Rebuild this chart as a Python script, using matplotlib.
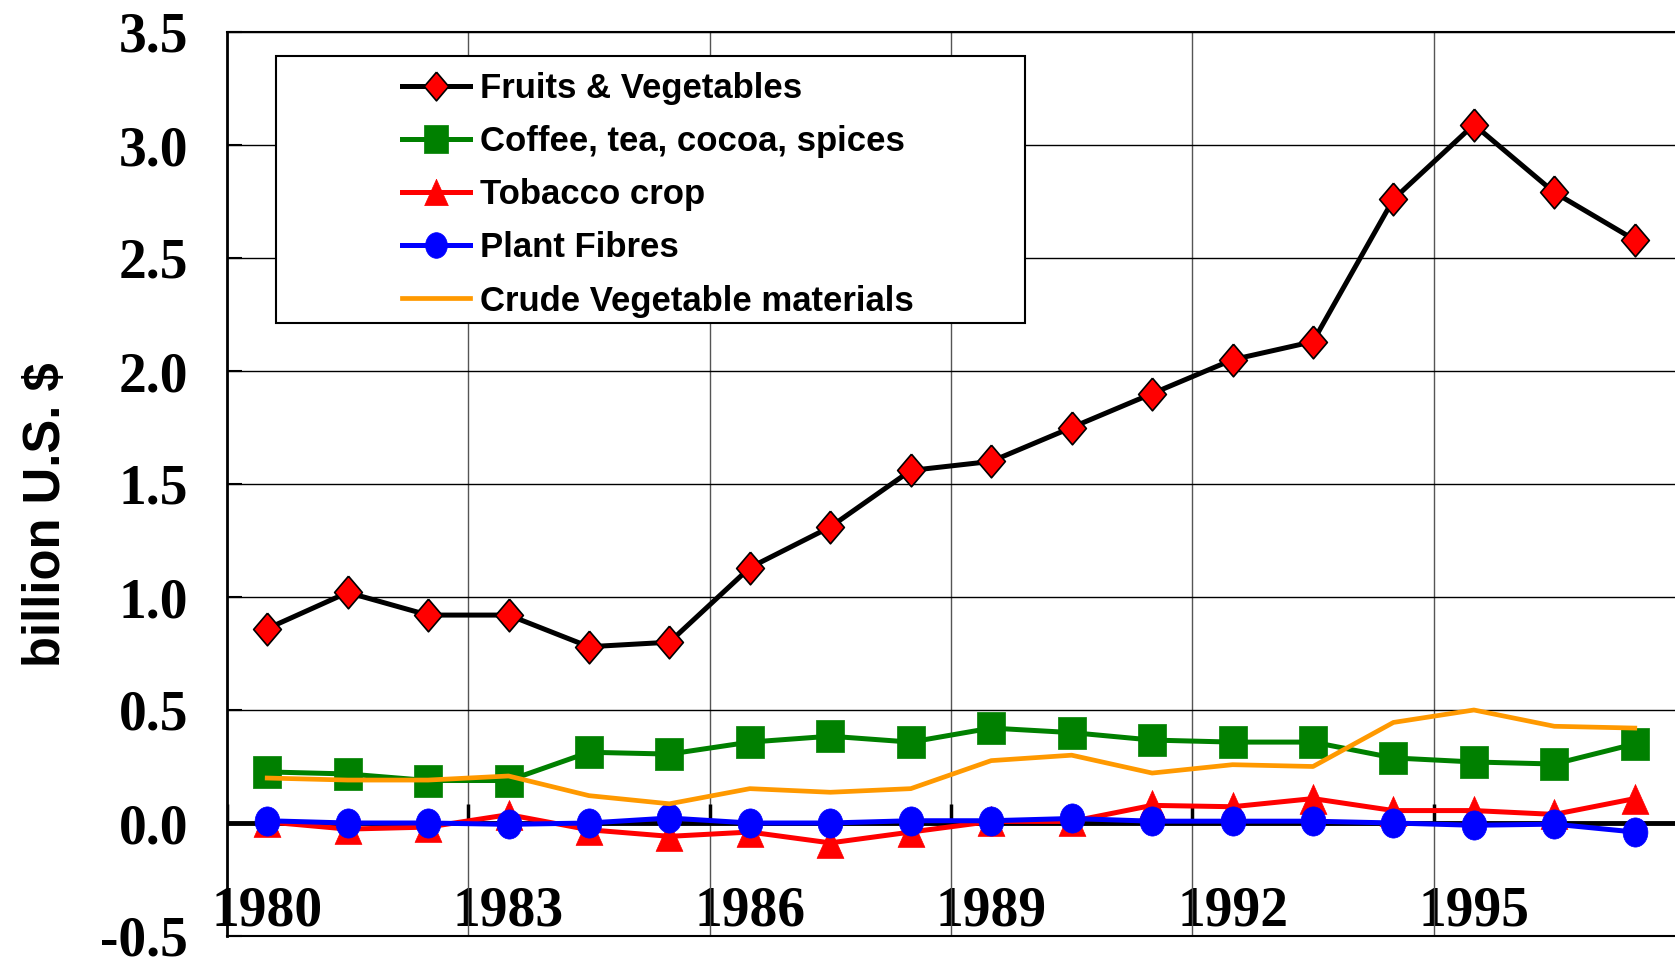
import matplotlib.pyplot as plt
from matplotlib.path import Path
from matplotlib.patches import Rectangle
from matplotlib.transforms import Affine2D
from matplotlib.ticker import FormatStrFormatter

# data (billion U.S. $)
years = list(range(1980, 1998))
fruits_veg = [0.86, 1.02, 0.92, 0.92, 0.78, 0.80, 1.13, 1.31, 1.56, 1.60,
              1.75, 1.90, 2.05, 2.13, 2.76, 3.09, 2.79, 2.58]
coffee_tea = [0.226, 0.217, 0.188, 0.188, 0.313, 0.305, 0.358, 0.384, 0.358, 0.42,
              0.40, 0.367, 0.358, 0.358, 0.288, 0.27, 0.261, 0.35]
tobacco = [0.005, -0.027, -0.018, 0.037, -0.03, -0.059, -0.04, -0.088, -0.04, 0.007,
           0.007, 0.078, 0.072, 0.108, 0.055, 0.055, 0.038, 0.108]
plant_fibres = [0.01, 0.0, 0.0, -0.006, 0.0, 0.022, 0.0, 0.0, 0.01, 0.01,
                0.02, 0.008, 0.008, 0.008, 0.0, -0.01, -0.005, -0.04]
crude_veg = [0.199, 0.19, 0.19, 0.208, 0.121, 0.085, 0.152, 0.136, 0.152, 0.276,
             0.30, 0.221, 0.258, 0.25, 0.445, 0.50, 0.428, 0.42]

labels = ['Fruits & Vegetables', 'Coffee, tea, cocoa, spices', 'Tobacco crop',
          'Plant Fibres', 'Crude Vegetable materials']
x_ticks = [1980, 1983, 1986, 1989, 1992, 1995]
x_grid = [1982.5, 1985.5, 1988.5, 1991.5, 1994.5]
y_ticks = [-0.5, 0.0, 0.5, 1.0, 1.5, 2.0, 2.5, 3.0, 3.5]

# excel-like markers, a bit taller than wide
diamond = [(0, 1), (0.85, 0), (0, -1), (-0.85, 0), (0, 1)]
square = [(-0.87, -1), (0.87, -1), (0.87, 1), (-0.87, 1), (-0.87, -1)]
triangle = [(0, 1), (0.9, -1), (-0.9, -1), (0, 1)]
ellipse = Affine2D().scale(0.85, 1.0).transform_path(Path.unit_circle())

fig = plt.figure(figsize=(16.75, 9.58), dpi=100)
ax = fig.add_axes([227/1675, 1-936/958, 1-227/1675, 904/958])

ax.plot(years, fruits_veg, color='black', lw=3.6, marker=diamond, ms=23.5,
        mfc='red', mec='black', mew=1.2, label=labels[0], zorder=5)
ax.plot(years, coffee_tea, color='#008000', lw=3.6, marker=square, ms=23,
        mfc='#008000', mec='#008000', mew=0.5, label=labels[1], zorder=5)
ax.plot(years, tobacco, color='red', lw=3.6, marker=triangle, ms=21.5,
        mfc='red', mec='red', mew=0.5, label=labels[2], zorder=5)
ax.plot(years, plant_fibres, color='blue', lw=3.6, marker=ellipse, ms=21,
        mfc='blue', mec='blue', mew=0.5, label=labels[3], zorder=5)
ax.plot(years, crude_veg, color='#FF9900', lw=3.4, label=labels[4], zorder=5)

ax.set_xlim(1979.5, 1997.5)
ax.set_ylim(-0.5, 3.5)

ax.set_yticks(y_ticks)
ax.yaxis.set_major_formatter(FormatStrFormatter('%.1f'))
ax.tick_params(axis='y', direction='in', length=11, width=1.5, pad=28)
ax.set_xticks(x_ticks)
ax.set_xticks(x_grid, minor=True)
ax.tick_params(axis='x', which='both', length=0, pad=-36)
for t in ax.get_xticklabels() + ax.get_yticklabels():
    t.set_fontfamily('Liberation Serif')
    t.set_fontweight('bold')
    t.set_fontsize(40)

ax.grid(axis='y', which='major', color='black', lw=1.0, zorder=1)
ax.grid(axis='x', which='minor', color='#555555', lw=1.0, zorder=1)

# category axis drawn at zero with small marks at the grid lines
ax.axhline(0, color='black', lw=3.5, zorder=2)
ax.vlines([1979.5] + x_grid, 0, 0.085, color='black', lw=2.5, zorder=2)

ax.spines['right'].set_visible(False)
ax.spines['left'].set_linewidth(2)
ax.spines['top'].set_linewidth(1.5)
ax.spines['bottom'].set_linewidth(1.5)

ax.set_ylabel('billion U.S. $', fontfamily='Liberation Sans', fontweight='bold',
              fontsize=36.5)
ax.yaxis.set_label_coords(-0.108, 0.466)

# legend box is wider than its content, as in the original
box = Rectangle((276/1675, 1-323/958), 749/1675, 267/958, transform=fig.transFigure,
                facecolor='white', edgecolor='black', lw=1.5, zorder=6)
ax.add_patch(box)
leg = ax.legend(loc='upper left', bbox_to_anchor=(402/1675, 1-72/958),
                bbox_transform=fig.transFigure, frameon=False, borderpad=0,
                borderaxespad=0, handlelength=1.95, handletextpad=0.3,
                labelspacing=0.58, prop={'family': 'Liberation Sans',
                                         'weight': 'bold', 'size': 25})
leg.set_zorder(7)
for h in leg.legend_handles:
    h.set_markersize(h.get_markersize() * 0.88)

fig.savefig('out.png', dpi=100)
